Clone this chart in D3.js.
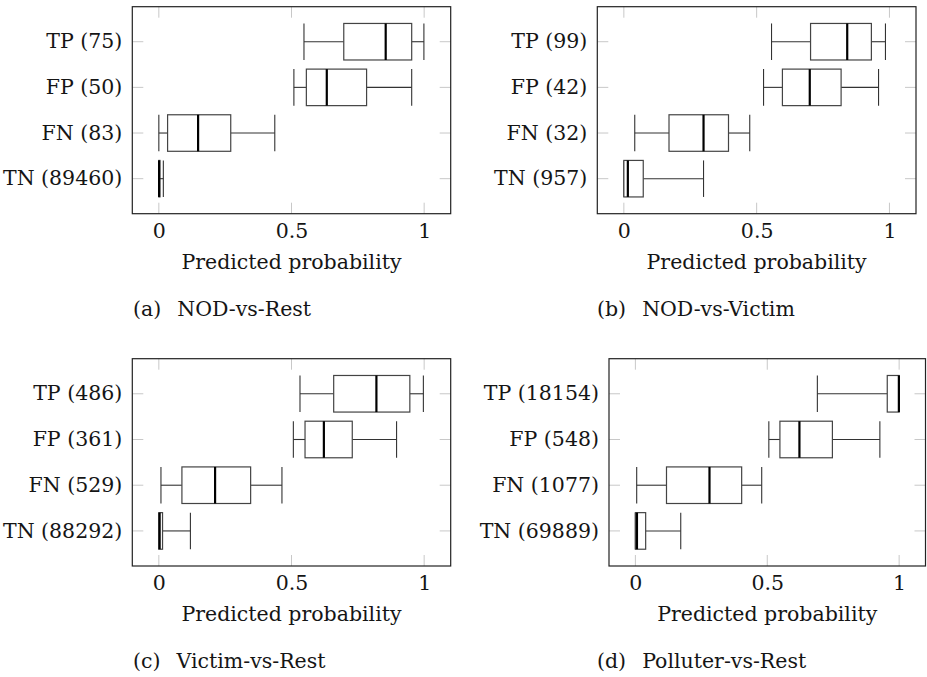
<!DOCTYPE html>
<html>
<head>
<meta charset="utf-8">
<script src="https://cdn.jsdelivr.net/npm/d3@7"></script>
<style>
  body { margin: 0; background: #fff; }
  svg { display: block; }
  text { font-family: "DejaVu Serif", serif; fill: #151515; }
</style>
</head>
<body>
<svg id="chart" width="927" height="677"></svg>
<script>
// categories shown on every y axis, top to bottom
const categories = ["TP", "FP", "FN", "TN"];
const xTicks = [0, 0.5, 1];

const captionTags = ["(a)", "(b)", "(c)", "(d)"];
const captionNames = ["NOD-vs-Rest", "NOD-vs-Victim", "Victim-vs-Rest", "Polluter-vs-Rest"];

// sample counts per category, one array per panel
const countsNodRest = [75, 50, 83, 89460];
const countsNodVictim = [99, 42, 32, 957];
const countsVictimRest = [486, 361, 529, 88292];
const countsPolluterRest = [18154, 548, 1077, 69889];

// [lower whisker, q1, median, q3, upper whisker] per category
const statsNodRest = [
  [0.547, 0.697, 0.855, 0.953, 0.999],
  [0.509, 0.556, 0.633, 0.783, 0.953],
  [0.0, 0.033, 0.148, 0.271, 0.437],
  [0.0, 0.0, 0.001, 0.004, 0.017]
];
const statsNodVictim = [
  [0.556, 0.703, 0.841, 0.932, 0.985],
  [0.526, 0.597, 0.700, 0.818, 0.959],
  [0.041, 0.170, 0.300, 0.394, 0.474],
  [0.0, 0.0, 0.015, 0.073, 0.300]
];
const statsVictimRest = [
  [0.532, 0.659, 0.820, 0.946, 0.997],
  [0.507, 0.551, 0.622, 0.729, 0.896],
  [0.008, 0.087, 0.212, 0.346, 0.464],
  [0.0, 0.0, 0.003, 0.014, 0.119]
];
const statsPolluterRest = [
  [0.690, 0.955, 0.999, 1.0, 1.0],
  [0.506, 0.548, 0.622, 0.747, 0.927],
  [0.005, 0.118, 0.281, 0.403, 0.479],
  [0.0, 0.0, 0.006, 0.039, 0.172]
];

const panelStats = [statsNodRest, statsNodVictim, statsVictimRest, statsPolluterRest];
const panelCounts = [countsNodRest, countsNodVictim, countsVictimRest, countsPolluterRest];

// frame of each axis, in page pixels
const frames = [
  {left: 132.3, right: 450.7, top: 6.7, bottom: 213.7, capX: 133},
  {left: 597.3, right: 916, top: 6.7, bottom: 213.7, capX: 597},
  {left: 132.3, right: 450.7, top: 358.7, bottom: 566, capX: 133},
  {left: 609, right: 925.5, top: 358.7, bottom: 566, capX: 597}
];

const svg = d3.select("#chart");
const fontSize = 20.5;

function drawPanel(i) {
  let f = frames[i];
  let stats = panelStats[i];
  let counts = panelCounts[i];
  let labels = categories.map((c, j) => c + " (" + counts[j] + ")");

  let x = d3.scaleLinear().domain([-0.1, 1.1]).range([f.left, f.right]);
  let y = d3.scalePoint().domain(labels).range([f.top, f.bottom]).padding(0.767);
  let boxH = y.step() * 0.8;

  let g = svg.append("g");

  // light tick marks inside the frame (both sides)
  let tickLen = 11;
  g.selectAll(".xt")
    .data(xTicks)
    .join("g")
    .each(function(d) {
      let t = d3.select(this);
      t.append("line").attr("x1", x(d)).attr("x2", x(d))
        .attr("y1", f.top).attr("y2", f.top + tickLen);
      t.append("line").attr("x1", x(d)).attr("x2", x(d))
        .attr("y1", f.bottom).attr("y2", f.bottom - tickLen);
    })
    .attr("stroke", "#c8c8c8").attr("stroke-width", 1);

  g.selectAll(".yt")
    .data(labels)
    .join("g")
    .each(function(d) {
      let t = d3.select(this);
      t.append("line").attr("x1", f.left).attr("x2", f.left + tickLen)
        .attr("y1", y(d)).attr("y2", y(d));
      t.append("line").attr("x1", f.right).attr("x2", f.right - tickLen)
        .attr("y1", y(d)).attr("y2", y(d));
    })
    .attr("stroke", "#c8c8c8").attr("stroke-width", 1);

  // boxes
  let rows = labels.map((l, j) => ({label: l, s: stats[j]}));
  let box = g.selectAll(".box")
    .data(rows)
    .join("g")
    .attr("class", "box");

  box.append("line")
    .attr("x1", d => x(d.s[0])).attr("x2", d => x(d.s[1]))
    .attr("y1", d => y(d.label)).attr("y2", d => y(d.label))
    .attr("stroke", "#333").attr("stroke-width", 1.1);
  box.append("line")
    .attr("x1", d => x(d.s[3])).attr("x2", d => x(d.s[4]))
    .attr("y1", d => y(d.label)).attr("y2", d => y(d.label))
    .attr("stroke", "#333").attr("stroke-width", 1.1);
  box.append("line")
    .attr("x1", d => x(d.s[0])).attr("x2", d => x(d.s[0]))
    .attr("y1", d => y(d.label) - boxH / 2).attr("y2", d => y(d.label) + boxH / 2)
    .attr("stroke", "#333").attr("stroke-width", 1.1);
  box.append("line")
    .attr("x1", d => x(d.s[4])).attr("x2", d => x(d.s[4]))
    .attr("y1", d => y(d.label) - boxH / 2).attr("y2", d => y(d.label) + boxH / 2)
    .attr("stroke", "#333").attr("stroke-width", 1.1);
  box.append("rect")
    .attr("x", d => x(d.s[1]))
    .attr("width", d => Math.max(0.5, x(d.s[3]) - x(d.s[1])))
    .attr("y", d => y(d.label) - boxH / 2)
    .attr("height", boxH)
    .attr("fill", "white")
    .attr("stroke", "#444").attr("stroke-width", 1.2);
  box.append("line")
    .attr("x1", d => x(d.s[2])).attr("x2", d => x(d.s[2]))
    .attr("y1", d => y(d.label) - boxH / 2).attr("y2", d => y(d.label) + boxH / 2)
    .attr("stroke", "#000").attr("stroke-width", 2.2);

  // frame
  g.append("rect")
    .attr("x", f.left).attr("y", f.top)
    .attr("width", f.right - f.left).attr("height", f.bottom - f.top)
    .attr("fill", "none").attr("stroke", "#222").attr("stroke-width", 1.2);

  // axes: labels only, the ticks are drawn above
  let xAxis = d3.axisBottom(x).tickValues(xTicks).tickSize(0).tickPadding(0)
    .tickFormat(d3.format("~g"));
  let gx = g.append("g").attr("transform", `translate(0, ${f.bottom})`).call(xAxis);
  gx.select(".domain").remove();
  gx.selectAll("text")
    .attr("y", 24).attr("dy", null)
    .attr("font-size", fontSize).attr("fill", "#151515");

  let yAxis = d3.axisLeft(y).tickSize(0).tickPadding(10);
  let gy = g.append("g").attr("transform", `translate(${f.left}, 0)`).call(yAxis);
  gy.select(".domain").remove();
  gy.selectAll("text")
    .attr("dy", "0.3em")
    .attr("font-size", fontSize).attr("fill", "#151515");

  g.append("text")
    .attr("x", (f.left + f.right) / 2)
    .attr("y", f.bottom + 55)
    .attr("text-anchor", "middle")
    .attr("font-size", fontSize)
    .text("Predicted probability");

  let cap = g.append("text")
    .attr("x", f.capX)
    .attr("y", f.bottom + 102)
    .attr("font-size", fontSize);
  cap.append("tspan").text(captionTags[i]);
  cap.append("tspan").attr("dx", 16).text(captionNames[i]);
}

for (let i = 0; i < 4; i++) {
  drawPanel(i);
}
</script>
</body>
</html>
